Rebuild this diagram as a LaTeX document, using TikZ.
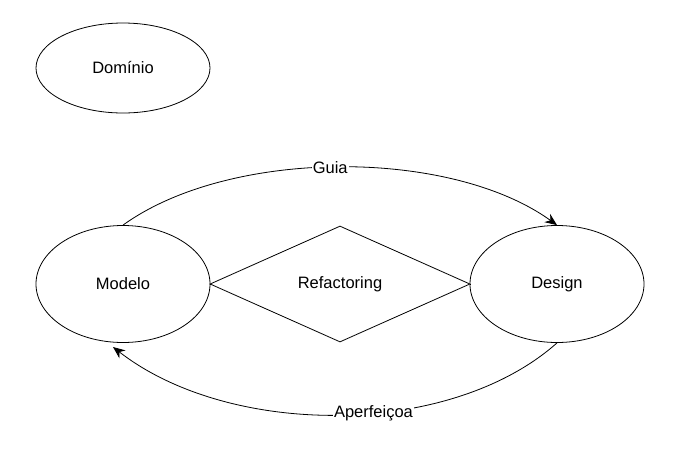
\documentclass[tikz,border=0pt]{standalone}
\usepackage{fontspec}
\setmainfont{Liberation Sans}
\usetikzlibrary{shapes.geometric,arrows.meta}

\begin{document}
\begin{tikzpicture}[
  x=1pt, y=-1pt,
  every node/.style={font=\fontsize{16.5}{20}\selectfont},
  bubble/.style={draw, ellipse, thick, minimum width=174, minimum height=117, inner sep=0pt},
  refbox/.style={draw, diamond, thick, minimum width=260, minimum height=116, inner sep=0pt},
  link/.style={thick, -{Stealth[length=12pt,width=10pt]}},
  tag/.style={fill=white, inner sep=1pt},
]
\useasboundingbox (0,0) rectangle (696,448);
\node[bubble, minimum height=90] (dominio) at (123,68) {Domínio};
\node[bubble] (modelo) at (123,284) {Modelo};
\node[bubble] (design) at (557,284) {Design};
\node[refbox] (refac) at (340,284) {Refactoring};
\draw[thick] (modelo.east) -- (refac.west);
\draw[thick] (refac.east) -- (design.west);
% Guia / Aperfeicoa
\draw[link] (modelo.north) .. controls (230,148) and (450,148) .. (design.north)
  node[tag, pos=0.48] {Guia};
\draw[link] (design.south) .. controls (450,438) and (230,438) .. (113,347)
  node[tag, pos=0.43] {Aperfeiçoa};
\end{tikzpicture}
\end{document}
